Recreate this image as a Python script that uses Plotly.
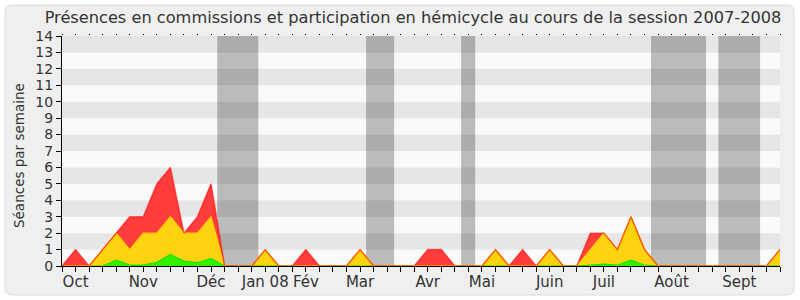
import plotly.graph_objects as go

# --- data (weekly values, session 2007-2008) ---
semaines = list(range(54))
serie_verte = [0, 0, 0, 0, 0.35, 0.06, 0.06, 0.22, 0.7, 0.3, 0.2, 0.47, 0,
               0, 0, 0, 0, 0, 0, 0, 0, 0, 0, 0, 0, 0, 0, 0, 0, 0, 0, 0, 0,
               0, 0, 0, 0, 0, 0, 0.06, 0.12, 0.06, 0.36, 0.06, 0, 0, 0, 0,
               0, 0, 0, 0, 0, 0]
serie_jaune_cumul = [0, 0, 0, 1, 2, 1, 2, 2, 3, 2, 2, 3, 0,
                     0, 0, 1, 0, 0, 0, 0, 0, 0, 1, 0, 0, 0, 0, 0, 0, 0, 0, 0, 1,
                     0, 0, 0, 1, 0, 0, 1, 2, 1, 3, 1, 0, 0, 0, 0,
                     0, 0, 0, 0, 0, 1]
total = [0, 1, 0, 1, 2, 3, 3, 5, 6, 2, 3, 5, 0,
         0, 0, 1, 0, 0, 1, 0, 0, 0, 1, 0, 0, 0, 0, 1, 1, 0, 0, 0, 1,
         0, 1, 0, 1, 0, 0, 2, 2, 1, 3, 1, 0, 0, 0, 0,
         0, 0, 0, 0, 0, 1]
serie_jaune = [j - v for j, v in zip(serie_jaune_cumul, serie_verte)]
serie_rouge = [t - j for t, j in zip(total, serie_jaune_cumul)]

mois_labels = ["Oct", "Nov", "Déc", "Jan 08", "Fév", "Mar", "Avr", "Mai",
               "Juin", "Juil", "Août", "Sept"]
mois_positions = [1, 6, 11, 15, 18, 22, 27, 31, 36, 40, 45, 50]

vacances = [(11.46, 14.49), (22.45, 24.52), (29.46, 30.5), (43.48, 47.54),
            (48.45, 51.53)]

y_max = 14

FONT = "DejaVu Sans"

fig = go.Figure()
fig.add_trace(go.Scatter(x=semaines, y=serie_verte, stackgroup="s", mode="lines",
                         line=dict(color="#22dd00", width=1.2),
                         fillcolor="#33f000", hoverinfo="skip"))
fig.add_trace(go.Scatter(x=semaines, y=serie_jaune, stackgroup="s", mode="lines",
                         line=dict(color="#ffcc00", width=1.2),
                         fillcolor="#ffd30f", hoverinfo="skip"))
fig.add_trace(go.Scatter(x=semaines, y=serie_rouge, stackgroup="s", mode="lines",
                         line=dict(color="rgba(255,0,0,0.55)", width=1.5),
                         fillcolor="#ff3d3d", hoverinfo="skip"))

# dummy trace on top axis for dotted tick marks
fig.add_trace(go.Scatter(x=[0, 53], y=[None, None], xaxis="x2", showlegend=False,
                         hoverinfo="skip"))

shapes = []
# outer rounded frame (paper coords; plot area is 62..780 x 36..266 px)
def px_x(x):
    return (x - 62) / 718
def px_y(y):
    return (266 - y) / 230
x0, x1, y0, y1, r = 5, 794, 5, 295, 7
path = (f"M {px_x(x0+r)},{px_y(y0)} L {px_x(x1-r)},{px_y(y0)} "
        f"Q {px_x(x1)},{px_y(y0)} {px_x(x1)},{px_y(y0+r)} "
        f"L {px_x(x1)},{px_y(y1-r)} Q {px_x(x1)},{px_y(y1)} {px_x(x1-r)},{px_y(y1)} "
        f"L {px_x(x0+r)},{px_y(y1)} Q {px_x(x0)},{px_y(y1)} {px_x(x0)},{px_y(y1-r)} "
        f"L {px_x(x0)},{px_y(y0+r)} Q {px_x(x0)},{px_y(y0)} {px_x(x0+r)},{px_y(y0)} Z")
shapes.append(dict(type="path", path=path, xref="paper", yref="paper",
                   fillcolor="#efefef", line=dict(color="#dcdcdc", width=1),
                   layer="below"))
# horizontal alternating stripes
for k in range(y_max):
    shapes.append(dict(type="rect", xref="paper", yref="y", x0=0, x1=1,
                       y0=k, y1=k + 1,
                       fillcolor="#e6e6e6" if k % 2 == 1 else "#fafafa",
                       line_width=0, layer="below"))
# vacation bands
for a, b in vacances:
    shapes.append(dict(type="rect", xref="x", yref="paper", x0=a, x1=b,
                       y0=0, y1=1, fillcolor="rgba(0,0,0,0.25)", line_width=0,
                       layer="below"))

ticktext = []
for s in semaines:
    ticktext.append(mois_labels[mois_positions.index(s)] if s in mois_positions else "")

fig.update_layout(
    width=800, height=300,
    margin=dict(l=62, r=20, t=36, b=34, autoexpand=False),
    paper_bgcolor="white",
    plot_bgcolor="#fafafa",
    showlegend=False,
    shapes=shapes,
    font=dict(family=FONT, color="#333333"),
    title=dict(text="Présences en commissions et participation en hémicycle au cours de la session 2007-2008",
               x=413 / 800, xanchor="center", xref="container",
               y=1 - 17 / 300, yanchor="middle", yref="container",
               font=dict(family=FONT, size=16.2, color="#333333")),
    xaxis=dict(range=[0, 53], tickmode="array", tickvals=semaines, ticktext=ticktext,
               ticks="outside", ticklen=5, tickcolor="#000", showgrid=False,
               zeroline=False, showline=True, linecolor="#000", linewidth=1,
               tickfont=dict(family=FONT, size=15, color="#333333"),
               ticklabelstandoff=-3,
               automargin=False, fixedrange=True),
    xaxis2=dict(range=[0, 53], overlaying="x", side="top", tickmode="array",
                tickvals=semaines, showticklabels=False, ticks="outside",
                ticklen=1, tickcolor="#000", showgrid=False, zeroline=False,
                showline=False, automargin=False),
    yaxis=dict(range=[0, y_max], tickmode="array", tickvals=list(range(y_max + 1)),
               ticks="outside", ticklen=5, tickcolor="#000", showgrid=False,
               zeroline=False, showline=True, linecolor="#000", linewidth=1,
               automargin=False,
               tickfont=dict(family=FONT, size=14, color="#333333")),
    annotations=[dict(text="Séances par semaine", textangle=-90,
                      xref="paper", yref="paper", x=px_x(19), y=px_y(156),
                      xanchor="center", yanchor="middle", showarrow=False,
                      font=dict(family=FONT, size=13.5, color="#333333"))],
)

fig.write_html("out.html")
